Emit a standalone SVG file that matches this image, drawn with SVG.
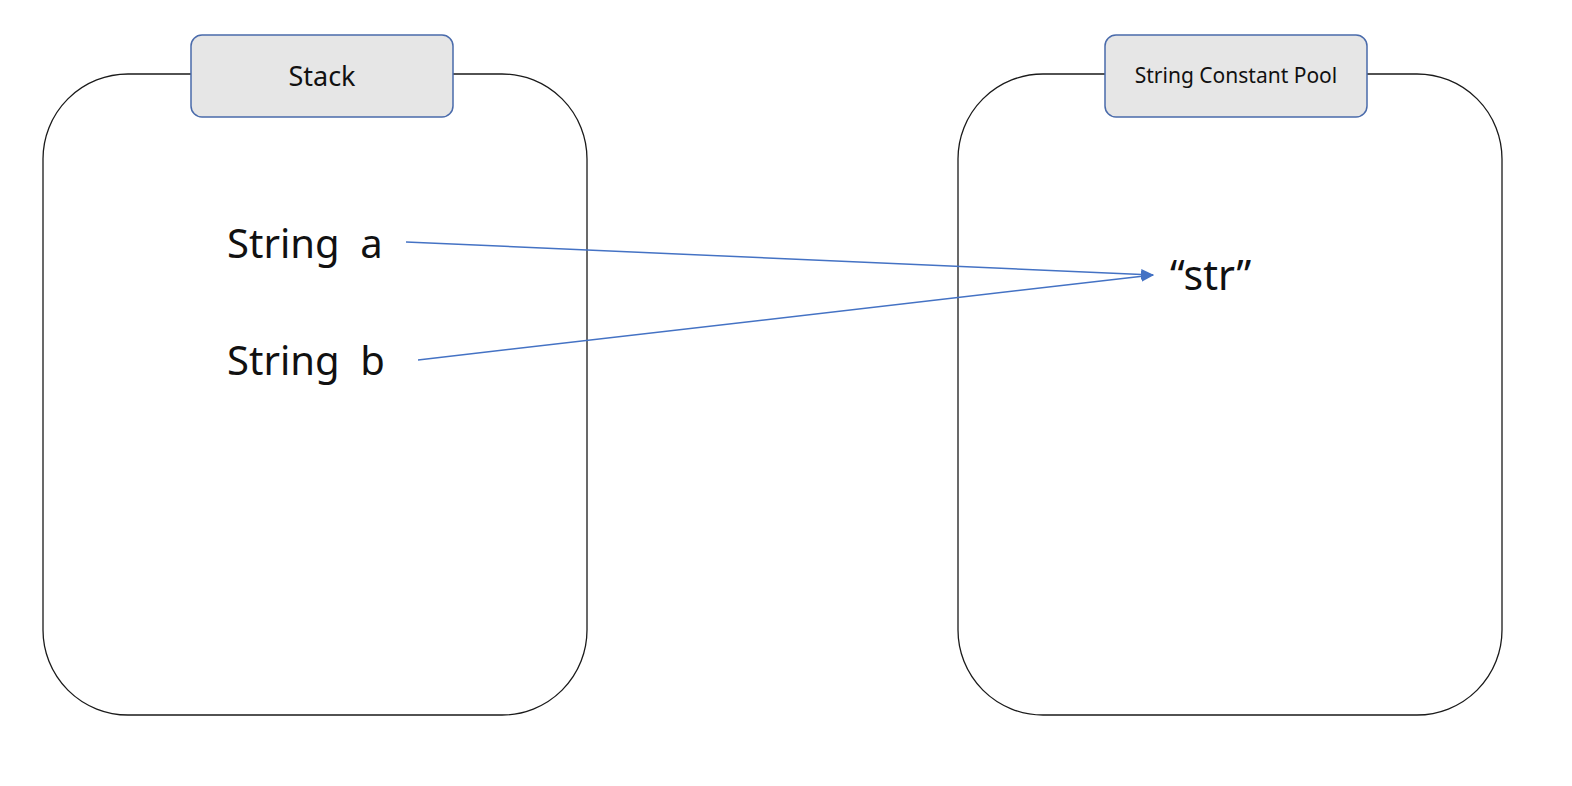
<svg xmlns="http://www.w3.org/2000/svg" width="1572" height="786" viewBox="0 0 1572 786">
<style>
.box{fill:#fff;stroke:#1a1a1a;stroke-width:1.3}
.tab{fill:#e6e6e6;stroke:#4a6bab;stroke-width:1.5}
.t{font-family:"Noto Sans","Open Sans","DejaVu Sans",sans-serif;fill:#111}
.con{stroke:#4472c4;stroke-width:1.5;fill:none}
</style>
<defs>
<marker id="ah" viewBox="0 0 12 10" refX="11" refY="5" markerWidth="13" markerHeight="11" markerUnits="userSpaceOnUse" orient="auto">
<path d="M0,0 L12,5 L0,10 z" fill="#4472c4"/>
</marker>
</defs>
<g id="stack">
<rect class="box" x="43" y="74" width="544" height="641" rx="85" ry="85"/>
<rect class="tab" x="191" y="35" width="262" height="82" rx="11" ry="11"/>
<text class="t" x="322" y="86" font-size="27" text-anchor="middle">Stack</text>
</g>
<g id="pool">
<rect class="box" x="958" y="74" width="544" height="641" rx="85" ry="85"/>
<rect class="tab" x="1105" y="35" width="262" height="82" rx="11" ry="11"/>
<text class="t" x="1236" y="83" font-size="21" text-anchor="middle">String Constant Pool</text>
</g>
<g id="strA"><text class="t" x="227" y="258" font-size="40" xml:space="preserve">String  a</text></g>
<g id="strB"><text class="t" x="227" y="375" font-size="40" xml:space="preserve">String  b</text></g>
<g id="str"><text class="t" x="1170" y="290" font-size="41">“str”</text></g>
<g id="connectors">
<line class="con" x1="406" y1="242" x2="1153" y2="275" marker-end="url(#ah)"/>
<line class="con" x1="418" y1="360" x2="1153" y2="275" marker-end="url(#ah)"/>
</g>
</svg>
